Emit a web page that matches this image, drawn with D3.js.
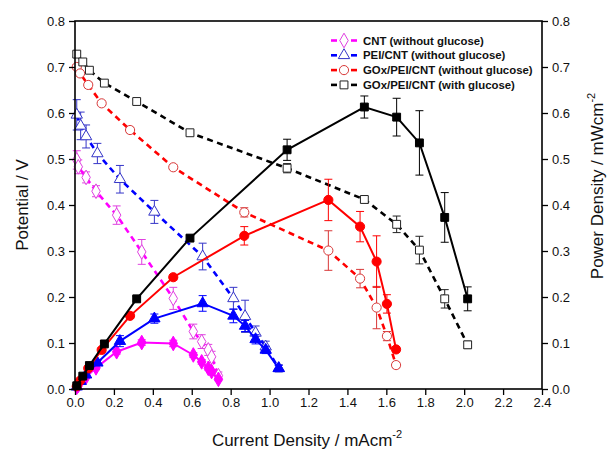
<!DOCTYPE html>
<html>
<head>
<meta charset="utf-8">
<script src="https://cdn.jsdelivr.net/npm/d3@7"></script>
<style>
  body { margin: 0; background: #fff; }
  svg { font-family: Arial, "Liberation Sans", sans-serif; }
</style>
</head>
<body>
<div id="chart"></div>
<script>
// current density (mA cm^-2), potential (V), power density (mW cm^-2)
const xTicks = [0, 0.2, 0.4, 0.6, 0.8, 1.0, 1.2, 1.4, 1.6, 1.8, 2.0, 2.2, 2.4];
const yTicks = [0, 0.1, 0.2, 0.3, 0.4, 0.5, 0.6, 0.7, 0.8];

const jMag = [0.009, 0.017, 0.057, 0.108, 0.214, 0.343, 0.505, 0.608, 0.651, 0.685, 0.702, 0.737];
const vMag = [0.498, 0.483, 0.46, 0.43, 0.378, 0.298, 0.197, 0.125, 0.103, 0.085, 0.07, 0.029];
const vMagErr = [0.02, 0.015, 0.012, 0.012, 0.02, 0.027, 0.024, 0.016, 0.015, 0.012, 0.012, 0.008];
const pMag = [0.004, 0.008, 0.026, 0.046, 0.081, 0.101, 0.099, 0.074, 0.059, 0.045, 0.038, 0.021];
const pMagErr = [0.002, 0.002, 0.003, 0.004, 0.005, 0.006, 0.007, 0.005, 0.005, 0.004, 0.004, 0.003];

const jBlue = [0.009, 0.029, 0.057, 0.115, 0.231, 0.408, 0.656, 0.814, 0.874, 0.928, 0.98, 1.047];
const vBlue = [0.596, 0.572, 0.549, 0.512, 0.456, 0.385, 0.288, 0.197, 0.158, 0.122, 0.092, 0.045];
const vBlueErr = [0.033, 0.03, 0.025, 0.022, 0.03, 0.025, 0.029, 0.024, 0.035, 0.015, 0.012, 0.008];
const pBlue = [0.005, 0.017, 0.031, 0.057, 0.104, 0.153, 0.186, 0.159, 0.137, 0.108, 0.085, 0.045];
const pBlueErr = [0.002, 0.003, 0.004, 0.005, 0.012, 0.01, 0.017, 0.015, 0.012, 0.01, 0.008, 0.006];

const jRed = [0.009, 0.026, 0.068, 0.137, 0.283, 0.505, 0.87, 1.302, 1.465, 1.55, 1.603, 1.65];
const vRed = [0.70, 0.686, 0.661, 0.621, 0.563, 0.482, 0.384, 0.301, 0.24, 0.177, 0.115, 0.052];
const vRedErr = [0.005, 0.006, 0.006, 0.005, 0.006, 0.005, 0.01, 0.043, 0.02, 0.046, 0.01, 0.006];
const pRed = [0.006, 0.018, 0.045, 0.085, 0.159, 0.243, 0.333, 0.411, 0.353, 0.277, 0.185, 0.086];
const pRedErr = [0.002, 0.002, 0.003, 0.004, 0.005, 0.006, 0.02, 0.045, 0.033, 0.056, 0.02, 0.006];

const jBlack = [0.009, 0.04, 0.074, 0.151, 0.317, 0.591, 1.09, 1.487, 1.653, 1.77, 1.90, 2.018];
const vBlack = [0.728, 0.711, 0.693, 0.665, 0.625, 0.557, 0.48, 0.412, 0.358, 0.302, 0.196, 0.096];
const vBlackErr = [0.006, 0.006, 0.005, 0.005, 0.005, 0.005, 0.01, 0.006, 0.018, 0.03, 0.02, 0.008];
const pBlack = [0.007, 0.028, 0.051, 0.098, 0.196, 0.328, 0.52, 0.613, 0.591, 0.535, 0.373, 0.196];
const pBlackErr = [0.002, 0.002, 0.003, 0.004, 0.005, 0.006, 0.023, 0.024, 0.041, 0.07, 0.054, 0.026];

const series = [
  { name: 'CNT (without glucose)', j: jMag, v: vMag, ve: vMagErr, p: pMag, pe: pMagErr,
    color: '#ff00ff', open: '#e040e0', shape: 'diamond' },
  { name: 'PEI/CNT (without glucose)', j: jBlue, v: vBlue, ve: vBlueErr, p: pBlue, pe: pBlueErr,
    color: '#0000ff', open: '#3535c8', shape: 'triangle' },
  { name: 'GOx/PEI/CNT (without glucose)', j: jRed, v: vRed, ve: vRedErr, p: pRed, pe: pRedErr,
    color: '#ff0000', open: '#d83838', shape: 'circle' },
  { name: 'GOx/PEI/CNT (with glucose)', j: jBlack, v: vBlack, ve: vBlackErr, p: pBlack, pe: pBlackErr,
    color: '#000000', open: '#222222', shape: 'square' },
];

const W = 612, H = 454;
const m = { top: 21, right: 70, bottom: 65, left: 75 };

const svg = d3.select('#chart').append('svg').attr('width', W).attr('height', H);

const x = d3.scaleLinear().domain([0, 2.4]).range([m.left, W - m.right]);
const y = d3.scaleLinear().domain([0, 0.8]).range([H - m.bottom, m.top]);

const symType = { diamond: d3.symbolDiamond, triangle: d3.symbolTriangle, circle: d3.symbolCircle, square: d3.symbolSquare };
const symSize = { diamond: 62, triangle: 56, circle: 66, square: 62 };
const sym = s => d3.symbol().type(symType[s]).size(symSize[s])();

function errBars(g, pts, color) {
  const eb = g.append('g').attr('stroke', color).attr('stroke-width', 1);
  pts.forEach(d => {
    const y1 = y(d.y + d.e), y2 = y(d.y - d.e), xx = x(d.x);
    eb.append('line').attr('x1', xx).attr('x2', xx).attr('y1', y1).attr('y2', y2);
    eb.append('line').attr('x1', xx - 4).attr('x2', xx + 4).attr('y1', y1).attr('y2', y1);
    eb.append('line').attr('x1', xx - 4).attr('x2', xx + 4).attr('y1', y2).attr('y2', y2);
  });
}

const line = d3.line().x(d => x(d.x)).y(d => y(d.y));
const plot = svg.append('g');

// polarisation curves (dashed, open symbols)
series.forEach(s => {
  const pts = s.j.map((jj, i) => ({ x: jj, y: s.v[i], e: s.ve[i] }));
  const g = plot.append('g');
  errBars(g, pts, s.open);
  g.append('path').datum(pts).attr('d', line).attr('fill', 'none')
    .attr('stroke', s.color).attr('stroke-width', 2.6).attr('stroke-dasharray', '6,4.5');
  g.selectAll('path.m').data(pts).join('path').attr('class', 'm')
    .attr('d', sym(s.shape))
    .attr('transform', d => `translate(${x(d.x)},${y(d.y)})`)
    .attr('fill', '#fff').attr('stroke', s.open).attr('stroke-width', 1);
});

// power curves (solid, filled symbols)
series.forEach(s => {
  const pts = s.j.map((jj, i) => ({ x: jj, y: s.p[i], e: s.pe[i] }));
  const g = plot.append('g');
  errBars(g, pts, s.color);
  g.append('path').datum(pts).attr('d', line).attr('fill', 'none')
    .attr('stroke', s.color).attr('stroke-width', 2);
  g.selectAll('path.m').data(pts).join('path').attr('class', 'm')
    .attr('d', sym(s.shape))
    .attr('transform', d => `translate(${x(d.x)},${y(d.y)})`)
    .attr('fill', s.color).attr('stroke', s.color).attr('stroke-width', 1);
});

// frame + axes
const fmt = d3.format('.1f');
const axB = svg.append('g').attr('transform', `translate(0,${H - m.bottom})`)
  .call(d3.axisBottom(x).tickValues(xTicks).tickFormat(fmt).tickSize(6).tickPadding(3));
const axL = svg.append('g').attr('transform', `translate(${m.left},0)`)
  .call(d3.axisLeft(y).tickValues(yTicks).tickFormat(fmt).tickSize(6).tickPadding(4));
const axR = svg.append('g').attr('transform', `translate(${W - m.right},0)`)
  .call(d3.axisRight(y).tickValues(yTicks).tickFormat(fmt).tickSize(6).tickPadding(4));
[axB, axL, axR].forEach(a => {
  a.select('.domain').remove();
  a.selectAll('line').attr('stroke', '#000').attr('stroke-width', 1.3);
  a.selectAll('text').attr('font-size', 13).attr('fill', '#111')
    .attr('font-family', 'Arial, "Liberation Sans", sans-serif');
});
svg.append('rect').attr('x', m.left).attr('y', m.top)
  .attr('width', W - m.left - m.right).attr('height', H - m.top - m.bottom)
  .attr('fill', 'none').attr('stroke', '#000').attr('stroke-width', 1.6);

// axis titles
const tb = svg.append('text').attr('x', 307).attr('y', 446).attr('text-anchor', 'middle')
  .attr('font-size', 17).attr('fill', '#111');
tb.append('tspan').text('Current Density / mAcm');
tb.append('tspan').attr('font-size', 11).attr('dy', -8).text('-2');

svg.append('text').attr('transform', 'translate(28,205) rotate(-90)').attr('text-anchor', 'middle')
  .attr('font-size', 17).attr('fill', '#111').text('Potential / V');

const tr = svg.append('text').attr('transform', 'translate(603,186) rotate(-90)').attr('text-anchor', 'middle')
  .attr('font-size', 17).attr('fill', '#111');
tr.append('tspan').text('Power Density / mWcm');
tr.append('tspan').attr('font-size', 11).attr('dy', -8).text('-2');

// legend
const lg = svg.append('g');
series.forEach((s, i) => {
  const yy = 40.5 + i * 14.8;
  lg.append('line').attr('x1', 331).attr('x2', 337).attr('y1', yy).attr('y2', yy)
    .attr('stroke', s.color).attr('stroke-width', 2.6);
  lg.append('line').attr('x1', 351).attr('x2', 357).attr('y1', yy).attr('y2', yy)
    .attr('stroke', s.color).attr('stroke-width', 2.6);
  lg.append('path').attr('d', sym(s.shape)).attr('transform', `translate(344,${yy})`)
    .attr('fill', '#fff').attr('stroke', s.open).attr('stroke-width', 1);
  lg.append('text').attr('x', 363).attr('y', yy + 4).attr('font-size', 11.4)
    .attr('font-weight', 'bold').attr('fill', '#111').text(s.name);
});
</script>
</body>
</html>
